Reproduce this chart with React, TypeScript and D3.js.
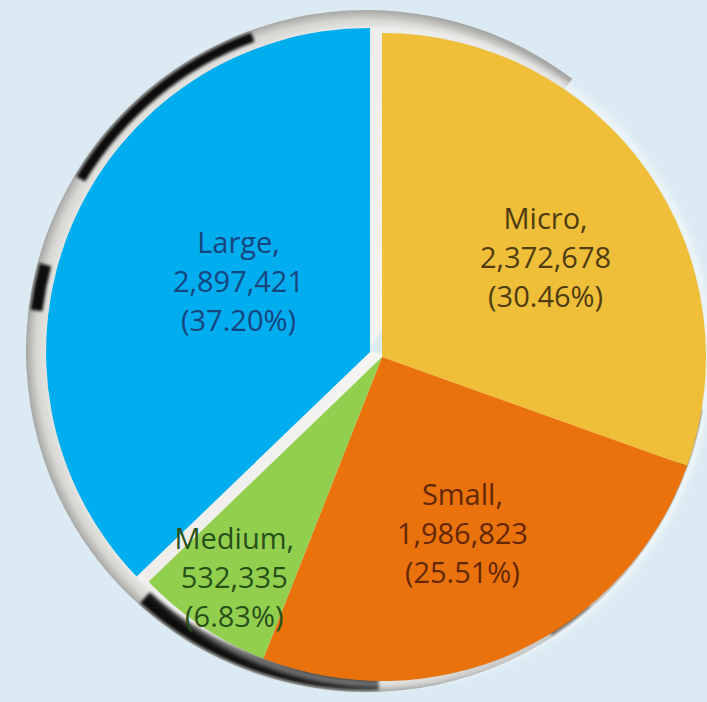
import React, { useMemo } from 'react';
import * as d3 from 'd3';

const categories = ['Micro', 'Small', 'Medium', 'Large'];
const counts = [2372678, 1986823, 532335, 2897421];
const percentLabels = ['30.46%', '25.51%', '6.83%', '37.20%'];

const sliceColors = ['#f0bf3a', '#ea720c', '#93cf4e', '#00adef'];
const textColors = ['#4f3c10', '#642703', '#28501a', '#17467f'];
// how far out the label sits, as a share of the radius, and a small turn in degrees
const labelFactor: Record<string, number> = { Micro: 0.59, Small: 0.6, Medium: 0.82, Large: 0.46 };
const labelTurn: Record<string, number> = { Micro: 4, Small: 0, Medium: 0, Large: 5 };
const explode: Record<string, number> = { Large: 13 };

const W = 707;
const H = 702;
const CX = 382;
const CY = 357;
const R = 324;
const COIN_CX = 367;
const COIN_CY = 351;
const COIN_R = 341;
const deg = Math.PI / 180;

// dark relief marks of the coin behind the pie, [start, end, width]
const coinShadows: [number, number, number][] = [
    [301, 340, 10],
    [277, 285, 12],
    [178, 222, 15],
    [139, 147, 8],
    [100, 110, 9],
];

const fmt = d3.format(',');

const App: React.FC = () => {
    const slices = useMemo(() => {
        const pie = d3.pie<number>().sort(null).value(d => d);
        return pie(counts);
    }, []);

    const arc = d3.arc<d3.PieArcDatum<number>>().innerRadius(0).outerRadius(R);
    const coinArc = d3.arc<any>()
        .innerRadius(0)
        .outerRadius(COIN_R)
        .startAngle(100 * deg)
        .endAngle(397 * deg);

    return (
        <svg width={W} height={H} style={{ position: 'fixed', left: 0, top: 0 }}>
            <defs>
                <radialGradient id="coin" cx="50%" cy="50%" r="50%">
                    <stop offset="0%" stopColor="#f4f4f2" />
                    <stop offset="92%" stopColor="#eeedea" />
                    <stop offset="97%" stopColor="#d6d6d3" />
                    <stop offset="100%" stopColor="#a6a6a4" />
                </radialGradient>
                <filter id="soft" x="-10%" y="-10%" width="120%" height="120%">
                    <feGaussianBlur stdDeviation="1.6" />
                </filter>
                <filter id="halo" x="-10%" y="-10%" width="120%" height="120%">
                    <feGaussianBlur stdDeviation="3" />
                </filter>
            </defs>
            <rect width={W} height={H} fill="#dcebf3" />

            <g transform={`translate(${COIN_CX},${COIN_CY})`}>
                <path d={coinArc({}) || ''} fill="url(#coin)" />
                {coinShadows.map(([a0, a1, w], i) => (
                    <path
                        key={i}
                        d={d3.arc<any>()
                            .innerRadius(COIN_R - w - 2)
                            .outerRadius(COIN_R - 2)
                            .startAngle(a0 * deg)
                            .endAngle(a1 * deg)({}) || ''}
                        fill="#111"
                        filter="url(#soft)"
                    />
                ))}
            </g>

            <circle cx={CX} cy={CY} r={R + 3} fill="none" stroke="#ffffff" strokeOpacity={0.7}
                strokeWidth={5} filter="url(#halo)" />

            <g transform={`translate(${CX},${CY})`}>
                {slices.map((s, i) => {
                    const mid = (s.startAngle + s.endAngle) / 2;
                    const off = explode[categories[i]] || 0;
                    const dx = Math.sin(mid) * off;
                    const dy = -Math.cos(mid) * off;
                    return (
                        <path
                            key={categories[i]}
                            d={arc(s) || ''}
                            transform={`translate(${dx},${dy})`}
                            fill={sliceColors[i]}
                        />
                    );
                })}
                {slices.map((s, i) => {
                    const name = categories[i];
                    const mid = (s.startAngle + s.endAngle) / 2;
                    const off = explode[name] || 0;
                    const dx = Math.sin(mid) * off;
                    const dy = -Math.cos(mid) * off;
                    const a = mid + labelTurn[name] * deg;
                    const rr = R * labelFactor[name];
                    const x = dx + Math.sin(a) * rr;
                    const y = dy - Math.cos(a) * rr;
                    const lines = [`${name},`, fmt(counts[i]), `(${percentLabels[i]})`];
                    return (
                        <text
                            key={'t' + name}
                            x={x}
                            y={y}
                            textAnchor="middle"
                            fontFamily="'Open Sans', sans-serif"
                            fontSize={29}
                            fill={textColors[i]}
                        >
                            {lines.map((l, j) => (
                                <tspan key={j} x={x} y={y + (j - 1) * 39} dy="0.35em">{l}</tspan>
                            ))}
                        </text>
                    );
                })}
            </g>
        </svg>
    );
};

export default App;
